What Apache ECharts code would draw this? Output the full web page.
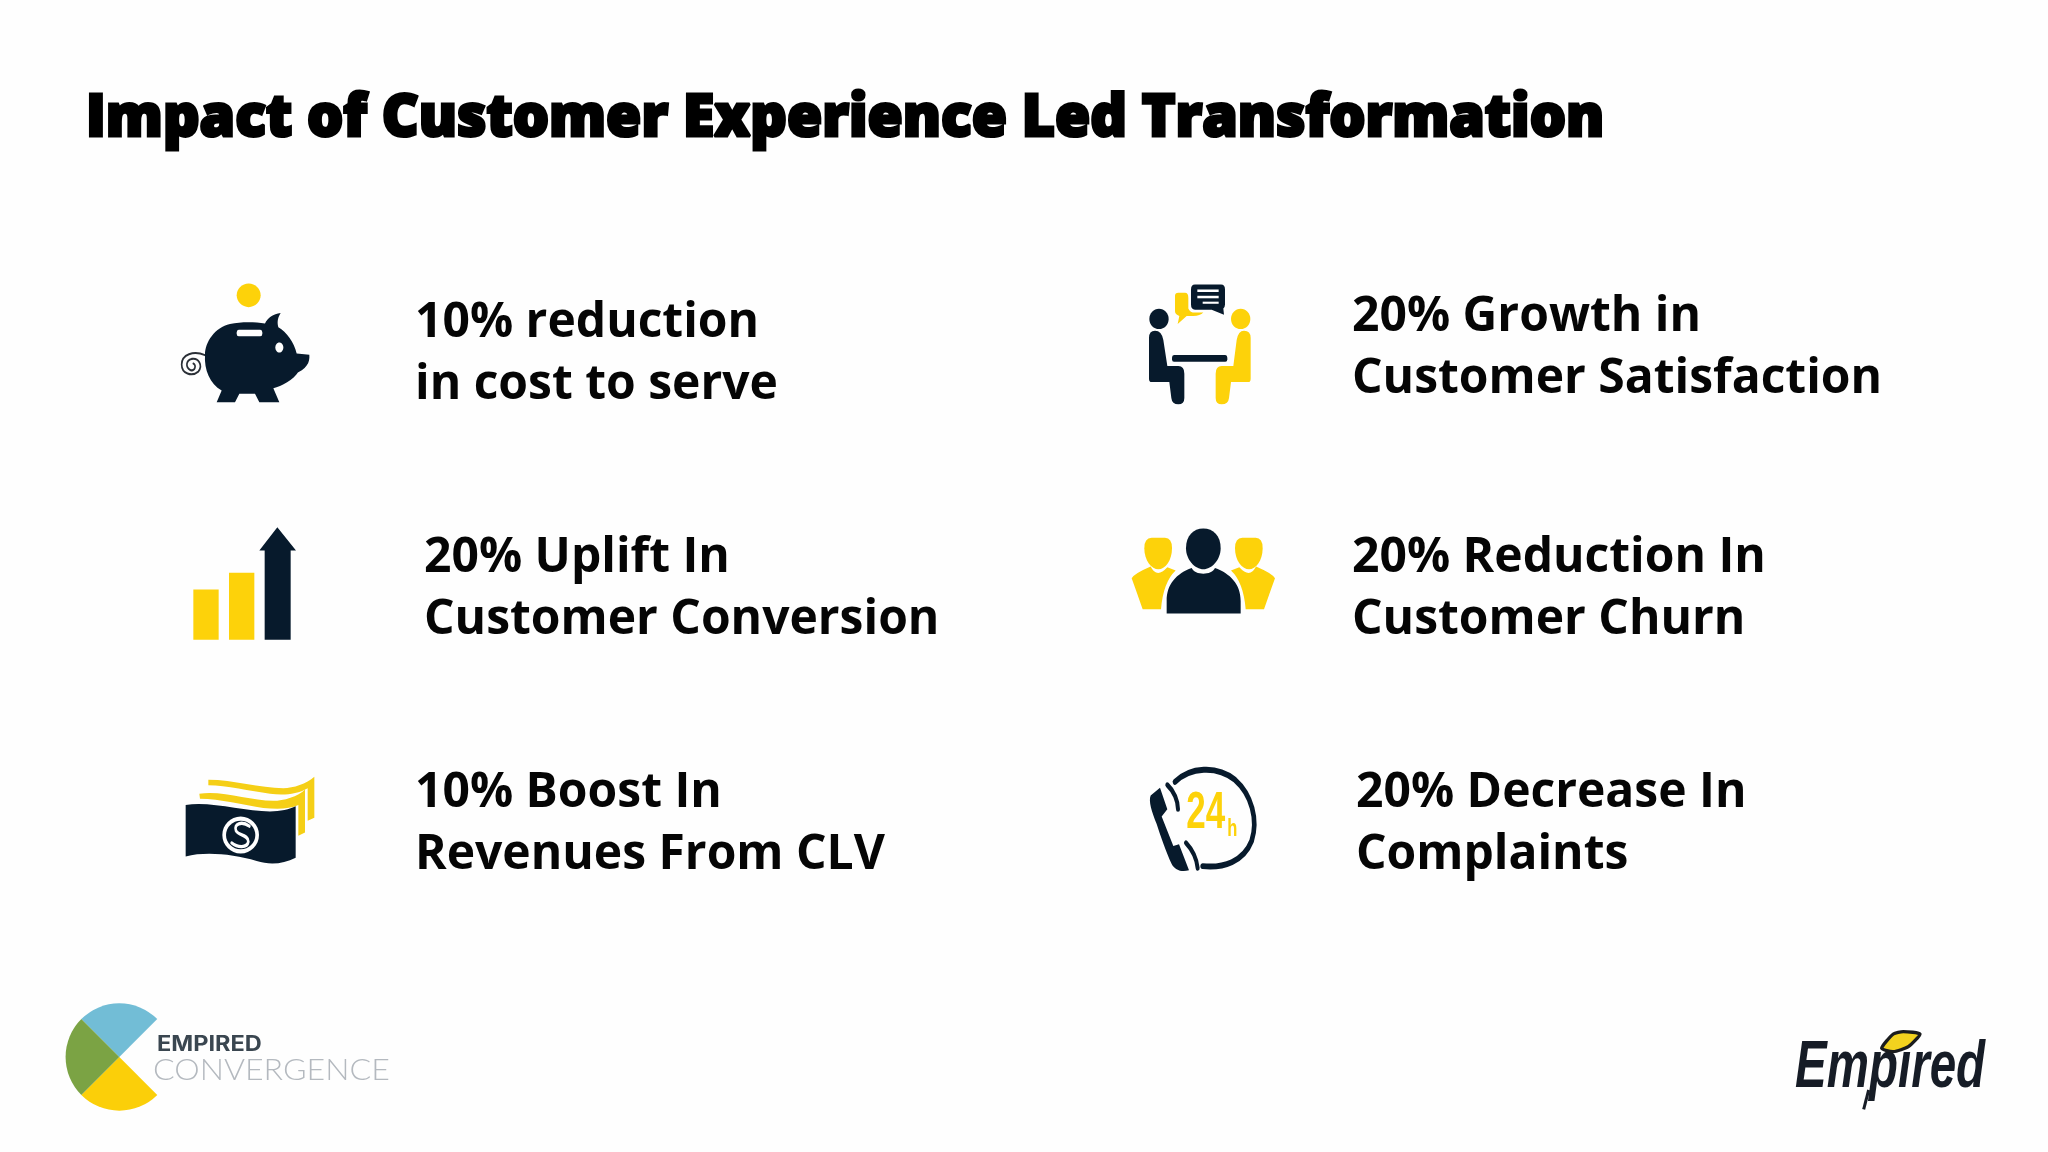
<!DOCTYPE html>
<html>
<head>
<meta charset="utf-8">
<style>html,body{margin:0;padding:0;background:#fefefe}#chart{width:2048px;height:1152px}</style>
<script src="https://cdn.jsdelivr.net/npm/echarts@6/dist/echarts.min.js"></script>
</head>
<body>
<div id="chart"></div>
<script>
// texts
const titleText = 'Impact of Customer Experience Led Transformation';
const leftHeadlines = [
  ['10% reduction', 'in cost to serve'],
  ['20% Uplift In', 'Customer Conversion'],
  ['10% Boost In', 'Revenues From CLV']
];
const rightHeadlines = [
  ['20% Growth in', 'Customer Satisfaction'],
  ['20% Reduction In', 'Customer Churn'],
  ['20% Decrease In', 'Complaints']
];
const iconNames = ['pig', 'bars', 'money', 'meeting', 'people', 'phone'];
const logoSlices = [90, 90, 90, 90];

const NAVY = '#071a2c';
const YELLOW = '#fdd20a';
const FONT = '"Open Sans"';

// text block positions
const leftX = [415, 424, 415];
const leftY = [323, 558, 793];
const rightX = [1352, 1352, 1356];
const rightY = [317, 558, 793];
const LINE_GAP = 62;

// icon helpers, icon coordinates are in a stretched drawing space (see renderItem)
function bbox(d) {
  const Cls = echarts.graphic.extendPath(d, {});
  return new Cls().getBoundingRect();
}
function p(d, fill) {
  const b = bbox(d);
  return { type: 'path', shape: { pathData: d, x: b.x, y: b.y, width: b.width, height: b.height, layout: 'cover' }, style: { fill: fill } };
}
function s(d, stroke, w) {
  const b = bbox(d);
  return { type: 'path', shape: { pathData: d, x: b.x, y: b.y, width: b.width, height: b.height, layout: 'cover' }, style: { fill: 'none', stroke: stroke, lineWidth: w, lineCap: 'round' } };
}
function r(x, y, w, h, fill, rad) {
  return { type: 'rect', shape: { x: x, y: y, width: w, height: h, r: rad || 0 }, style: { fill: fill } };
}
function e(cx, cy, rx, ry, fill) {
  return { type: 'ellipse', shape: { cx: cx, cy: cy, rx: rx, ry: ry }, style: { fill: fill } };
}

function iconShapes(name) {
  if (name === 'pig') {
    return [
      e(296, 84, 36, 28, YELLOW),
      s('M165 226 C130 214 95 225 95 248 C95 270 125 278 145 265 C160 250 145 232 125 235 C108 238 105 255 122 262 C135 264 140 250 130 246', '#2a2f36', 5),
      p('M165 225 C165 195 195 160 240 152 C275 146 315 147 345 151 C352 138 370 128 392 126 C385 135 380 145 385 160 C410 172 432 195 440 222 L478 225 C480 245 470 258 432 272 L446 265 C430 285 395 300 370 305 L388 338 L328 338 L315 318 L268 318 L255 338 L200 338 L215 310 C180 295 162 260 165 225 Z', NAVY),
      r(260, 166, 77, 15, '#ffffff', 6),
      e(388, 208, 12, 12, '#ffffff')
    ];
  }
  if (name === 'bars') {
    return [
      r(130, 783, 76, 119, YELLOW),
      r(237, 743, 76, 159, YELLOW),
      p('M344 902 L344 690 L328 690 L382 635 L438 690 L422 690 L422 902 Z', NAVY)
    ];
  }
  if (name === 'money') {
    return [
      p('M175 1235 C250 1235 330 1255 400 1255 C430 1255 470 1245 493 1228 L493 1325 L473 1332 L473 1255 C440 1270 400 1272 360 1268 C300 1262 230 1248 175 1248 Z', '#f5cf16'),
      p('M148 1268 C220 1260 300 1285 370 1285 C400 1285 445 1275 465 1258 L465 1360 L445 1368 L445 1295 C420 1305 380 1305 340 1302 C280 1295 210 1280 150 1280 Z', '#f5cf16'),
      p('M107 1295 C180 1285 280 1310 360 1310 C390 1310 420 1305 437 1298 L437 1420 C400 1435 360 1438 320 1428 C250 1412 170 1405 107 1417 Z', NAVY),
      e(272, 1366, 55, 44, '#ffffff'),
      e(272, 1366, 44, 34, NAVY),
      s('M298 1345 C275 1332 250 1340 258 1356 C265 1368 295 1365 295 1382 C292 1398 262 1396 245 1385', '#ffffff', 8)
    ];
  }
  if (name === 'meeting') {
    return [
      p('M195 85 Q195 78 205 78 L225 78 Q235 78 235 90 L235 115 Q240 125 255 125 L280 125 Q270 133 250 133 L230 133 L203 152 L208 133 Q195 130 195 122 Z', YELLOW),
      p('M255 58 L333 58 Q345 58 345 70 L345 106 Q345 112 340 115 L342 130 L305 118 L255 118 Q243 118 243 106 L243 70 Q243 58 255 58 Z', NAVY),
      r(262, 70, 64, 6, '#ffffff'),
      r(262, 85, 64, 6, '#ffffff'),
      r(278, 99, 48, 5, '#ffffff'),
      e(147, 140, 29, 24, NAVY),
      p('M117 185 Q117 168 135 168 Q155 168 160 190 L172 252 L205 252 Q223 252 223 270 L223 328 Q223 343 205 343 Q186 343 184 328 L178 290 L125 290 Q117 290 117 282 Z', NAVY),
      r(186, 226, 166, 16, NAVY, 6),
      e(392, 140, 29, 24, YELLOW),
      p('M422 185 Q422 168 402 168 Q385 168 380 190 L370 252 L335 252 Q317 252 317 270 L317 328 Q317 343 335 343 Q355 343 357 328 L363 290 L415 290 Q422 290 422 282 Z', YELLOW)
    ];
  }
  if (name === 'people') {
    return [
      p('M65 756 Q72 745 122 728 Q140 758 172 730 L197 738 Q160 765 153 830 L98 830 Q85 800 65 756 Z', YELLOW),
      p('M495 756 Q488 745 438 728 Q420 758 388 730 L363 738 Q400 765 407 830 L462 830 Q475 800 495 756 Z', YELLOW),
      p('M125 660 L165 660 Q186 660 186 685 C186 715 165 735 145 735 C125 735 103 715 103 685 Q103 660 125 660 Z', YELLOW),
      p('M397 660 L437 660 Q458 660 458 685 C458 715 437 735 417 735 C397 735 375 715 375 685 Q375 660 397 660 Z', YELLOW),
      p('M280 638 C310 638 332 655 332 685 C332 712 305 735 280 735 C255 735 228 712 228 685 C228 655 250 638 280 638 Z', NAVY),
      p('M170 840 L170 810 C170 770 200 745 245 732 C255 750 305 750 315 732 C360 745 392 770 392 810 L392 840 Z', NAVY)
    ];
  }
  // phone
  return [
    s('M195 1240 C240 1205 320 1200 375 1235 C425 1270 445 1330 425 1380 C400 1430 340 1445 278 1440', NAVY, 14),
    p('M150 1254 L122 1272 C115 1285 125 1310 140 1340 C150 1365 170 1410 185 1435 C195 1450 215 1455 237 1450 L207 1388 L190 1392 L155 1322 L172 1305 Z', NAVY),
    s('M172 1247 C192 1262 204 1285 204 1305', NAVY, 12),
    s('M228 1385 C248 1402 260 1422 263 1445', NAVY, 12),
    { type: 'text', x: 287, y: 1316, scaleX: 0.86, style: { text: '24', fill: YELLOW, font: 'bold 122px "Liberation Sans"', align: 'center', verticalAlign: 'middle' } },
    { type: 'text', x: 367, y: 1354, scaleX: 0.9, style: { text: 'h', fill: YELLOW, font: 'bold 55px "Liberation Sans"', align: 'center', verticalAlign: 'middle' } }
  ];
}

// crop origin of each icon
const iconOriginX = [150, 150, 150, 1110, 1110, 1110];

function headlineText(lines, x, y) {
  return lines.map(function (line, i) {
    return {
      type: 'text', x: x, y: y + i * LINE_GAP,
      style: { text: line, fill: '#050505', font: 'bold 48px ' + FONT, verticalAlign: 'middle' }
    };
  });
}

let elements = [{
  type: 'text', x: 86, y: 119, scaleX: 0.967,
  style: { text: titleText, fill: '#000', font: '800 59px ' + FONT, stroke: '#000', lineWidth: 3, lineJoin: 'round', verticalAlign: 'middle' }
}];
leftHeadlines.forEach(function (h, i) {
  elements = elements.concat(headlineText(h, leftX[i], leftY[i]));
});
rightHeadlines.forEach(function (h, i) {
  elements = elements.concat(headlineText(h, rightX[i], rightY[i]));
});

// logo wordmarks
elements.push(
  { type: 'text', x: 157, y: 1045, scaleX: 1.12, style: { text: 'EMPIRED', fill: '#3a4650', font: 'bold 21px Inter', verticalAlign: 'middle' } },
  { type: 'text', x: 153, y: 1070, scaleX: 1.07, style: { text: 'CONVERGENCE', fill: '#b4b9bf', font: '300 30px Lato', verticalAlign: 'middle' } },
  { type: 'text', x: 1795, y: 1069, scaleX: 0.72, style: { text: 'Empired', fill: '#161c26', font: 'italic bold 66px "Liberation Sans"', verticalAlign: 'middle' } }
);
// long descender of the p and the leaf over the i of the Empired logo
elements.push({
  type: 'polyline', x: 1770, y: 1010, scaleX: 1 / 3, scaleY: 1 / 3,
  shape: { points: [[296, 240], [281, 298]] },
  style: { stroke: '#161c26', lineWidth: 9, fill: 'none' }
}, {
  type: 'polygon', x: 1770, y: 1010, scaleX: 1 / 3, scaleY: 1 / 3,
  shape: { points: [[335, 115], [370, 72], [400, 65], [450, 72], [415, 110], [370, 125]], smooth: 0.2 },
  style: { fill: '#f2d21e', stroke: '#1a1c1e', lineWidth: 10 }
});

const chart = echarts.init(document.getElementById('chart'), null, { renderer: 'canvas' });
chart.setOption({
  backgroundColor: '#fefefe',
  animation: false,
  graphic: { elements: elements },
  series: [
    {
      type: 'custom',
      coordinateSystem: 'none',
      silent: true,
      data: iconNames.map(function (n, i) { return [i]; }),
      renderItem: function (params) {
        const i = params.dataIndex;
        return {
          type: 'group', x: iconOriginX[i], y: 260, scaleX: 1 / 3, scaleY: 0.4209,
          children: iconShapes(iconNames[i])
        };
      }
    },
    {
      // logo disc, the second slice is the open wedge
      type: 'pie',
      silent: true,
      center: [119.3, 1057],
      radius: [0, 53.7],
      startAngle: 135,
      label: { show: false },
      labelLine: { show: false },
      data: logoSlices.map(function (v, i) {
        return { value: v, itemStyle: { color: ['#72bdd6', 'rgba(0,0,0,0)', '#fbcf09', '#7ba344'][i] } };
      })
    }
  ]
});
</script>
</body>
</html>
